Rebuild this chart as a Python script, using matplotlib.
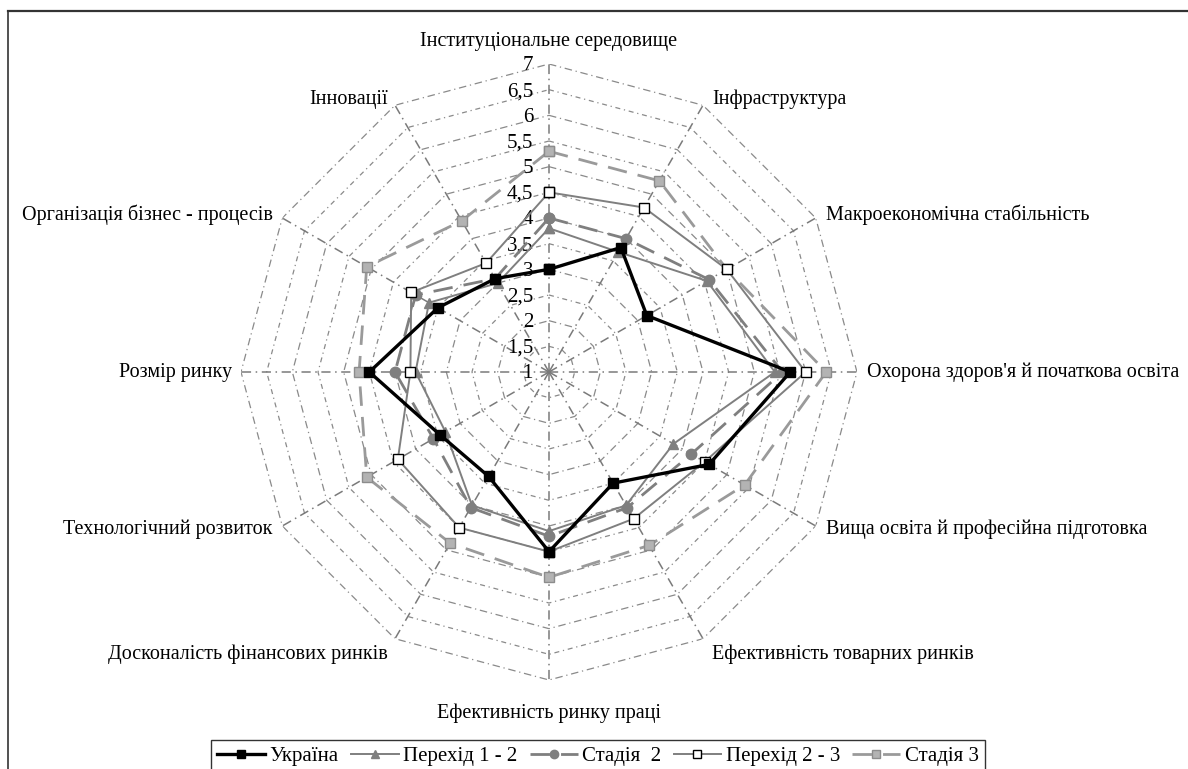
import numpy as np
import matplotlib
matplotlib.use("Agg")
import matplotlib.pyplot as plt
from matplotlib.lines import Line2D

plt.rcParams['font.family'] = ['Liberation Serif', 'DejaVu Serif']

categories = [
    "Інституціональне середовище",
    "Інфраструктура",
    "Макроекономічна стабільність",
    "Охорона здоров'я й початкова освіта",
    "Вища освіта й професійна підготовка",
    "Ефективність товарних ринків",
    "Ефективність ринку праці",
    "Досконалість фінансових ринків",
    "Технологічний розвиток",
    "Розмір ринку",
    "Організація бізнес - процесів",
    "Інновації",
]

ukraine      = [3.0, 3.8, 3.2, 5.7, 4.6, 3.5, 4.5, 3.35, 3.45, 4.5, 3.5, 3.1]
transition12 = [3.8, 3.7, 4.55, 5.4, 3.8, 4.0, 4.1, 4.0, 3.33, 3.6, 3.7, 3.0]
stage2       = [4.0, 4.0, 4.6, 5.55, 4.2, 4.05, 4.2, 4.05, 3.6, 4.0, 4.0, 3.1]
transition23 = [4.5, 4.7, 5.0, 6.0, 4.5, 4.3, 4.5, 4.5, 4.4, 3.7, 4.1, 3.45]
stage3       = [5.3, 5.3, 5.0, 6.4, 5.4, 4.9, 5.0, 4.85, 5.1, 4.7, 5.1, 4.4]

series_names = ["Україна", "Перехід 1 - 2", "Стадія  2", "Перехід 2 - 3", "Стадія 3"]

tick_values = [1, 1.5, 2, 2.5, 3, 3.5, 4, 4.5, 5, 5.5, 6, 6.5, 7]
tick_labels = ["1", "1,5", "2", "2,5", "3", "3,5", "4", "4,5", "5", "5,5", "6", "6,5", "7"]

W, H = 1188, 769
fig = plt.figure(figsize=(W / 100, H / 100), dpi=100)

cx, cy, R = 549, 372, 308
ax = fig.add_axes([(cx - R) / W, (H - cy - R) / H, 2 * R / W, 2 * R / H], projection='polar')
ax.set_theta_zero_location('N')
ax.set_theta_direction(-1)
ax.set_ylim(1, 7)
ax.grid(False)
ax.set_xticks([])
ax.set_yticks([])
ax.spines['polar'].set_visible(False)
ax.patch.set_alpha(0)

n = len(categories)
theta = np.arange(n) * 2 * np.pi / n
theta_closed = np.append(theta, theta[0])

grid_color = '#8a8a8a'
# ring grid (12-gon)
for i, r in enumerate(tick_values[1:]):
    ax.plot(theta_closed, [r] * (n + 1), color=grid_color, lw=0.9,
            linestyle=(0, (6, 3, 1, 3)) if i % 2 else (0, (4, 3, 1, 3)), zorder=1)
# spokes
for t in theta:
    ax.plot([t, t], [1, 7], color='#7a7a7a', lw=1.1, linestyle=(0, (6, 3, 1, 3)), zorder=1)

# tick labels
for v, lab in zip(tick_values, tick_labels):
    ax.annotate(lab, xy=(0, v), xytext=(-16, -2), textcoords='offset pixels',
                ha='right', va='center', fontsize=15, zorder=2)

# category labels
offsets = {0: (0, 22, 'center', 'center'),
           1: (9, 6, 'left', 'center'),
           2: (10, 3, 'left', 'center'),
           3: (10, 0, 'left', 'center'),
           4: (10, -3, 'left', 'center'),
           5: (9, -16, 'left', 'center'),
           6: (0, -33, 'center', 'center'),
           7: (-7, -16, 'right', 'center'),
           8: (-10, -3, 'right', 'center'),
           9: (-9, 0, 'right', 'center'),
           10: (-9, 3, 'right', 'center'),
           11: (-7, 6, 'right', 'center')}
for i, (t, lab) in enumerate(zip(theta, categories)):
    dx, dy, ha, va = offsets[i]
    ax.annotate(lab, xy=(t, 7), xytext=(dx, dy), textcoords='offset pixels',
                ha=ha, va=va, fontsize=14.5, annotation_clip=False)

def closed(v):
    return list(v) + [v[0]]

styles = [
    dict(color='black', lw=2.4, linestyle='-', marker='s', ms=7.5, mfc='black', mec='black', zorder=10),
    dict(color='#7f7f7f', lw=1.4, linestyle='-', marker='^', ms=7.5, mfc='#7f7f7f', mec='#7f7f7f', zorder=6),
    dict(color='#7f7f7f', lw=2.0, linestyle=(0, (7, 4)), marker='o', ms=7.5, mfc='#7f7f7f', mec='#7f7f7f', zorder=7),
    dict(color='#7f7f7f', lw=1.4, linestyle='-', marker='s', ms=7.5, mfc='white', mec='black', mew=1.0, zorder=8),
    dict(color='#9a9a9a', lw=2.0, linestyle=(0, (7, 4)), marker='s', ms=7.5, mfc='#b3b3b3', mec='#8c8c8c', zorder=5),
]
data = [ukraine, transition12, stage2, transition23, stage3]
handles = []
for d, st, name in zip(data, styles, series_names):
    line, = ax.plot(theta_closed, closed(d), label=name, clip_on=False, **st)
    handles.append(line)

# frame lines
fig.add_artist(Line2D([8 / W, 1], [1 - 11 / H, 1 - 11 / H], transform=fig.transFigure,
                      color='#333333', lw=1.6))
fig.add_artist(Line2D([8 / W, 8 / W], [0, 1 - 11 / H], transform=fig.transFigure,
                      color='#333333', lw=1.2))

leg = fig.legend(handles=handles, labels=series_names, loc='upper left',
                 bbox_to_anchor=(211 / W, 1 - 740 / H), ncol=5, fontsize=15,
                 frameon=True, fancybox=False, edgecolor='black', handlelength=2.3,
                 handletextpad=0.2, columnspacing=0.6, borderpad=0.3, borderaxespad=0,
                 markerscale=0.8)
leg.get_frame().set_linewidth(1.0)

fig.savefig('out.png', dpi=100, facecolor='white')
